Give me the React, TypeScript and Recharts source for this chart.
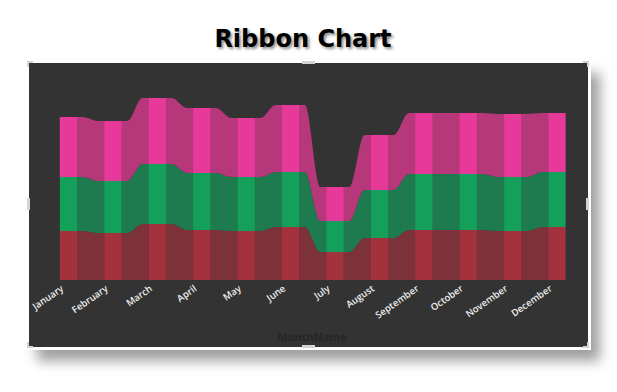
import React from "react";
import { Area, AreaChart, Bar, BarChart, XAxis, YAxis } from "recharts";

const months = ["January", "February", "March", "April", "May", "June", "July", "August", "September", "October", "November", "December"];
const redValues = [49, 47, 56, 50, 49, 53, 28, 42, 50, 50, 49, 53];
const greenValues = [54, 52, 60, 57, 54, 55, 31, 48, 56, 56, 54, 55];
const pinkValues = [60, 60, 66, 65, 59, 67, 34, 55, 61, 61, 63, 59];

const W = 617;
const H = 392;
const M = { top: 80, left: 46, right: 38 };
const BAR_HALF = 0.19; // half bar width in category units
const FLAT_HALF = 0.33; // ribbon stays flat this far from a bar centre

const barColors = { red: "#a3313e", green: "#14a05a", pink: "#e6399a" };
const ribbonColors = { red: "#7c3238", green: "#1e7b4f", pink: "#b7377b" };

const barData = months.map((month, i) => ({
  month,
  red: redValues[i],
  green: greenValues[i],
  pink: pinkValues[i],
}));

const ribbonData = months.flatMap((_, i) => {
  const row = { red: redValues[i], green: greenValues[i], pink: pinkValues[i] };
  const left = i === 0 ? i - BAR_HALF : i - FLAT_HALF;
  const right = i === months.length - 1 ? i + BAR_HALF : i + FLAT_HALF;
  return [
    { x: left, ...row },
    { x: right, ...row },
  ];
});

function MonthTick(props: any) {
  const { x, y, payload } = props;
  const tx = x - 4;
  const ty = y + 2;
  return (
    <text
      x={tx}
      y={ty}
      textAnchor="end"
      transform={`rotate(-35, ${tx}, ${ty})`}
      fill="#eeeeee"
      fontSize={9.5}
      fontWeight={600}
      fontFamily="'Open Sans', sans-serif"
    >
      {payload.value}
    </text>
  );
}

const handle: React.CSSProperties = { position: "absolute", background: "#d4d4d4" };

export default function App() {
  return (
    <div style={{ position: "absolute", left: 0, top: 0, width: W, height: H, background: "#fff", overflow: "hidden" }}>
      <div
        style={{
          position: "absolute",
          left: 0,
          width: 606,
          top: 27,
          textAlign: "center",
          fontFamily: "'DejaVu Sans', sans-serif",
          fontWeight: 700,
          fontSize: 24,
          lineHeight: "24px",
          color: "#000",
          textShadow: "2px 2px 3px rgba(0,0,0,0.45)",
        }}
      >
        Ribbon Chart
      </div>

      <div
        style={{
          position: "absolute",
          left: 29,
          top: 63,
          width: 559,
          height: 284,
          background: "#333333",
          boxShadow: "0 0 0 3px #ffffff, 10px 12px 12px 2px rgba(0,0,0,0.38)",
        }}
      />

      <div style={{ position: "absolute", left: 0, top: 0 }}>
        <AreaChart width={W} height={H} data={ribbonData} margin={{ ...M, bottom: H - 280 }}>
          <XAxis type="number" dataKey="x" domain={[-0.5, 11.5]} hide />
          <YAxis domain={[0, 200]} hide />
          <Area type="monotone" dataKey="red" stackId="r" stroke="none" fill={ribbonColors.red} fillOpacity={1} dot={false} activeDot={false} isAnimationActive={false} />
          <Area type="monotone" dataKey="green" stackId="r" stroke="none" fill={ribbonColors.green} fillOpacity={1} dot={false} activeDot={false} isAnimationActive={false} />
          <Area type="monotone" dataKey="pink" stackId="r" stroke="none" fill={ribbonColors.pink} fillOpacity={1} dot={false} activeDot={false} isAnimationActive={false} />
        </AreaChart>
      </div>

      <div style={{ position: "absolute", left: 0, top: 0 }}>
        <BarChart width={W} height={H} data={barData} margin={{ ...M, bottom: H - 280 - 40 }}>
          <XAxis dataKey="month" height={40} interval={0} tickLine={false} axisLine={false} tick={<MonthTick />} />
          <YAxis domain={[0, 200]} hide />
          <Bar dataKey="red" stackId="b" fill={barColors.red} barSize={17} isAnimationActive={false} />
          <Bar dataKey="green" stackId="b" fill={barColors.green} barSize={17} isAnimationActive={false} />
          <Bar dataKey="pink" stackId="b" fill={barColors.pink} barSize={17} isAnimationActive={false} />
        </BarChart>
      </div>

      <div
        style={{
          position: "absolute",
          left: 262,
          width: 100,
          top: 329,
          textAlign: "center",
          fontFamily: "'Open Sans', sans-serif",
          fontWeight: 700,
          fontSize: 11,
          color: "#262626",
        }}
      >
        MonthName
      </div>

      <div style={{ ...handle, left: 27, top: 61, width: 6, height: 2 }} />
      <div style={{ ...handle, left: 27, top: 61, width: 2, height: 6 }} />
      <div style={{ ...handle, left: 583, top: 61, width: 6, height: 2 }} />
      <div style={{ ...handle, left: 587, top: 61, width: 2, height: 6 }} />
      <div style={{ ...handle, left: 27, top: 346, width: 6, height: 2 }} />
      <div style={{ ...handle, left: 27, top: 342, width: 2, height: 6 }} />
      <div style={{ ...handle, left: 583, top: 346, width: 6, height: 2 }} />
      <div style={{ ...handle, left: 587, top: 342, width: 2, height: 6 }} />
      <div style={{ ...handle, left: 302, top: 61, width: 13, height: 3 }} />
      <div style={{ ...handle, left: 302, top: 345, width: 13, height: 3 }} />
      <div style={{ ...handle, left: 27, top: 198, width: 3, height: 12 }} />
      <div style={{ ...handle, left: 586, top: 198, width: 3, height: 12 }} />
    </div>
  );
}
